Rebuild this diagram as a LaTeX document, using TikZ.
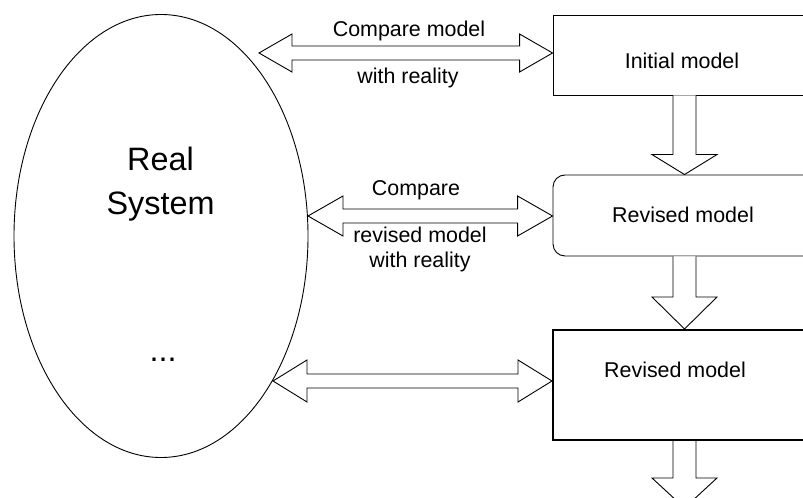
\documentclass[tikz,border=0pt]{standalone}
\usepackage{fontspec}
\setmainfont{Liberation Sans}
\usetikzlibrary{calc,shapes.geometric}

\tikzset{
  thinline/.style={draw=black, line width=0.9bp},
  blockarrow/.style={thinline, fill=white, line join=miter},
  modelbox/.style={thinline, rectangle, fill=white, inner sep=0pt,
    minimum width=263bp, minimum height=80bp},
  label/.style={inner sep=0pt, anchor=base, align=center,
    font=\fontsize{21.5}{26}\selectfont},
  big/.style={inner sep=0pt, anchor=base, align=center,
    font=\fontsize{32.5}{45}\selectfont},
}

% horizontal double block arrow between two tips:
% #1 left tip, #2 right tip, #3 shaft half width, #4 head half width, #5 head length
\newcommand\dblblock[5]{%
  \draw[blockarrow] (#1) -- ($(#1)+(#5,-#4)$) -- ($(#1)+(#5,-#3)$)
    -- ($(#2)+(-#5,-#3)$) -- ($(#2)+(-#5,-#4)$) -- (#2)
    -- ($(#2)+(-#5,#4)$) -- ($(#2)+(-#5,#3)$)
    -- ($(#1)+(#5,#3)$) -- ($(#1)+(#5,#4)$) -- cycle;}

% downward block arrow: #1 start of shaft, #2 tip, #3 shaft half width,
% #4 head half width, #5 head length
\newcommand\downblock[5]{%
  \draw[blockarrow] ($(#1)+(-#3,0)$) -- ($(#2)+(-#3,-#5)$) -- ($(#2)+(-#4,-#5)$)
    -- (#2) -- ($(#2)+(#4,-#5)$) -- ($(#2)+(#3,-#5)$) -- ($(#1)+(#3,0)$);}

\begin{document}
\begin{tikzpicture}[x=1bp, y=-1bp]
  \useasboundingbox (0,0) rectangle (803,498);
  \clip (0,0) rectangle (803,498);

  % the real system (multi-line texts sit on the baseline of their last line)
  \node[thinline, ellipse, minimum width=294bp, minimum height=443bp, inner sep=0pt]
    (sys) at (161,236) {};
  \node[big] (systxt) at (160.5,215) {Real\\System};
  \node[big] (dots) at (163,361) {...};

  % model boxes
  \node[modelbox, minimum height=80bp] (m1) at (684.5,55) {};
  \node[label] (m1txt) at (682,69) {Initial model};

  \node[modelbox, rounded corners=12bp, minimum height=81bp] (m2) at (684.5,215.5) {};
  \node[label] (m2txt) at (683,222.5) {Revised model};

  \node[modelbox, line width=2bp, minimum height=110bp] (m3) at (684.5,385) {};
  \node[label] (m3txt) at (675,377) {Revised model};

  % comparison arrows
  \coordinate (c1l) at (259,53);
  \coordinate (c1r) at (m1.west |- c1l);
  \dblblock{c1l}{c1r}{7}{19}{33}
  \node[label] (c1top) at (409,37) {Compare model};
  \node[label] (c1bot) at (408,84) {with reality};

  \coordinate (c2l) at (308,216);
  \coordinate (c2r) at (m2.west |- c2l);
  \dblblock{c2l}{c2r}{7}{20}{35}
  \node[label] (c2top) at (416,196) {Compare};
  \node[label] (c2bot) at (420,268) {revised model\\with reality};

  \coordinate (c3l) at (273,381);
  \coordinate (c3r) at (m3.west |- c3l);
  \dblblock{c3l}{c3r}{7}{21}{34}

  % refinement arrows
  \downblock{m1.south}{m2.north}{11.5}{32.5}{20}
  \downblock{m2.south}{m3.north}{11.5}{32.5}{32}
  \coordinate (next) at (684.5,508);
  \downblock{m3.south}{next}{11.5}{32.5}{30}
\end{tikzpicture}
\end{document}
